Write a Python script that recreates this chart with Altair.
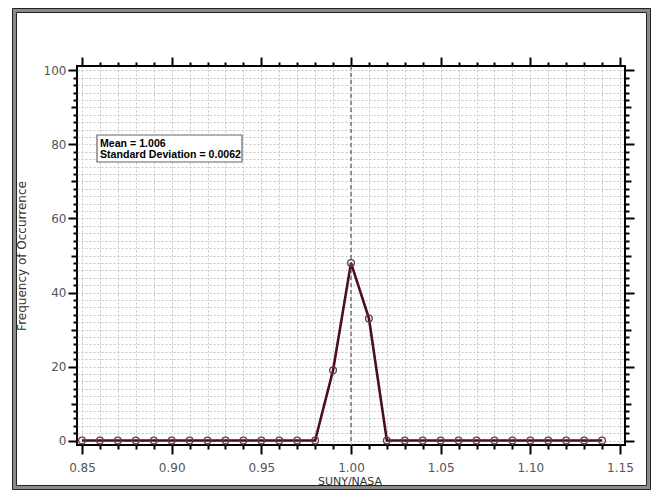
import altair as alt
import pandas as pd

# ---- data ----
ratio = [0.85, 0.86, 0.87, 0.88, 0.89, 0.90, 0.91, 0.92, 0.93, 0.94,
         0.95, 0.96, 0.97, 0.98, 0.99, 1.00, 1.01, 1.02, 1.03, 1.04,
         1.05, 1.06, 1.07, 1.08, 1.09, 1.10, 1.11, 1.12, 1.13, 1.14]
freq = [0, 0, 0, 0, 0, 0, 0, 0, 0, 0,
        0, 0, 0, 0, 19, 48, 33, 0, 0, 0,
        0, 0, 0, 0, 0, 0, 0, 0, 0, 0]
x_ticks = [0.85, 0.86, 0.87, 0.88, 0.89, 0.90, 0.91, 0.92, 0.93, 0.94,
           0.95, 0.96, 0.97, 0.98, 0.99, 1.00, 1.01, 1.02, 1.03, 1.04,
           1.05, 1.06, 1.07, 1.08, 1.09, 1.10, 1.11, 1.12, 1.13, 1.14, 1.15]
y_ticks = list(range(0, 101, 2))
ref_line = [1.00]
stats_text = ["Mean = 1.006", "Standard Deviation = 0.0062"]
x_title = "SUNY/NASA"
y_title = "Frequency of Occurrence"

df = pd.DataFrame({"ratio": ratio, "freq": freq})
ref_df = pd.DataFrame({"ratio": ref_line})
one = pd.DataFrame({"a": [0]})

W, H = 548, 379
xscale = alt.Scale(domain=[0.8472, 1.1528], nice=False, zero=False)
yscale = alt.Scale(domain=[-1.2, 101.2], nice=False, zero=False)

xmajor = "abs(datum.value*20 - round(datum.value*20)) < 0.001"
ymajor = "datum.value % 20 == 0"
ymid = "datum.value % 10 == 0"

font = "DejaVu Sans"
grid_color = "#c4c4c4"

x_bottom = alt.Axis(
    orient="bottom", values=x_ticks, title=None,
    labelExpr=f"{xmajor} ? format(datum.value, '.2f') : ''",
    labelOverlap=False, labelFlush=False,
    tickSize={"condition": {"test": xmajor, "value": 9}, "value": 4},
    tickWidth=2, tickColor="#000", domain=False,
    grid=True, gridColor=grid_color, gridDash=[2, 2], gridWidth=1,
    labelFont=font, labelFontSize=12, labelColor="#555", labelPadding=8,
)
y_left = alt.Axis(
    orient="left", values=y_ticks, title=y_title,
    labelExpr=f"{ymajor} ? datum.label : ''",
    labelOverlap=False, labelFlush=False,
    tickSize={"condition": [{"test": ymajor, "value": 9}, {"test": ymid, "value": 6}], "value": 4},
    tickWidth=2, tickColor="#000", domain=False,
    grid=True, gridColor=grid_color, gridDash=[2, 2], gridWidth=1,
    labelFont=font, labelFontSize=12, labelColor="#555", labelPadding=2,
    titleFont=font, titleFontSize=12, titleFontWeight="normal", titleColor="#333",
    titlePadding=15,
)
x_top = alt.Axis(
    orient="top", values=x_ticks, title=None, labels=False, grid=False, domain=False,
    tickSize={"condition": {"test": xmajor, "value": 9}, "value": 4},
    tickWidth=2, tickColor="#000",
)
y_right = alt.Axis(
    orient="right", values=y_ticks, title=None, labels=False, grid=False, domain=False,
    tickSize={"condition": [{"test": ymajor, "value": 9}, {"test": ymid, "value": 6}], "value": 4},
    tickWidth=2, tickColor="#000",
)

line = alt.Chart(df).mark_line(color="#4a0e1d", strokeWidth=2.6).encode(
    x=alt.X("ratio:Q", scale=xscale, axis=x_bottom),
    y=alt.Y("freq:Q", scale=yscale, axis=y_left),
)
pts = alt.Chart(df).mark_point(shape="circle", size=45, filled=False,
                               color="#6a3a46", strokeWidth=1.3, opacity=1).encode(
    x=alt.X("ratio:Q", scale=xscale, axis=x_top),
    y=alt.Y("freq:Q", scale=yscale, axis=y_right),
)
ref = alt.Chart(ref_df).mark_rule(color="#555", strokeDash=[4, 3], strokeWidth=1.2).encode(
    x=alt.X("ratio:Q", scale=xscale, axis=None),
)
box = alt.Chart(one).mark_rect(fill="#ffffff", stroke="#666", strokeWidth=1.2).encode(
    x=alt.value(20), x2=alt.value(165), y=alt.value(69), y2=alt.value(96),
)
txt1 = alt.Chart(pd.DataFrame({"t": [stats_text[0]]})).mark_text(
    align="left", baseline="alphabetic", font="Liberation Sans",
    fontSize=10.6, fontWeight="bold", color="#000").encode(
    x=alt.value(23), y=alt.value(80.5), text="t:N",
)
txt2 = alt.Chart(pd.DataFrame({"t": [stats_text[1]]})).mark_text(
    align="left", baseline="alphabetic", font="Liberation Sans",
    fontSize=10.6, fontWeight="bold", color="#000").encode(
    x=alt.value(23), y=alt.value(92), text="t:N",
)
xt = alt.Chart(pd.DataFrame({"t": [x_title]})).mark_text(
    align="center", baseline="alphabetic", font=font,
    fontSize=11, color="#333").encode(
    x=alt.value(273), y=alt.value(418.5), text="t:N",
)
frame1 = alt.Chart(one).mark_rect(fillOpacity=0, stroke="#222", strokeWidth=1).encode(
    x=alt.value(-64.5), x2=alt.value(573.5), y=alt.value(-57.5), y2=alt.value(423.5),
)
frame2 = alt.Chart(one).mark_rect(fillOpacity=0, stroke="#8a8a8a", strokeWidth=3).encode(
    x=alt.value(-62.5), x2=alt.value(571.5), y=alt.value(-55.5), y2=alt.value(421.5),
)
frame3 = alt.Chart(one).mark_rect(fillOpacity=0, stroke="#222", strokeWidth=1).encode(
    x=alt.value(-60.5), x2=alt.value(569.5), y=alt.value(-53.5), y2=alt.value(419.5),
)

chart = alt.layer(line, pts, ref, box, txt1, txt2, xt, frame1, frame2, frame3).resolve_scale(
    y="shared"
).resolve_axis(
    x="independent", y="independent"
).properties(
    width=W, height=H,
    padding={"left": 69, "top": 58, "right": 26, "bottom": 45},
    autosize=alt.AutoSizeParams(type="none"),
    background="#ffffff",
).configure_view(stroke="#000", strokeWidth=2)

chart.save("out.html", embed_options={"renderer": "svg", "actions": False})
